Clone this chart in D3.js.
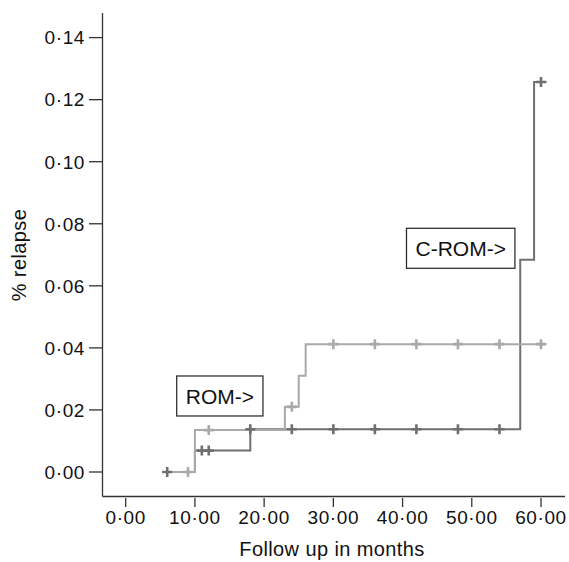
<!DOCTYPE html>
<meta charset="utf-8">
<style>
body{
  margin: 0px;
  background: white;
  font-family: "Liberation Sans", Arial, Helvetica, sans-serif;
}
svg{
  display: block;
}
.tick-label{
  font-size: 19px;
  letter-spacing: 0.6px;
  fill: #111;
}
.axis-title{
  font-size: 20px;
  letter-spacing: 0.4px;
  fill: #111;
}
.note{
  font-size: 21px;
  fill: #111;
}
</style>
<body>
<div id='graph'></div>

<script src="https://cdn.jsdelivr.net/npm/d3@7"></script>
<script>

// ROM group (light line): step times and relapse values after each step
var romTimes    = [5.4, 10, 23, 25, 26]
var romValues   = [0, 0.0135, 0.021, 0.031, 0.0412]
var romCensored = [9, 12, 24, 30, 36, 42, 48, 54, 60]

// C-ROM group (dark line)
var cromTimes    = [5.4, 10, 18, 57, 59]
var cromValues   = [0, 0.0069, 0.0138, 0.0684, 0.1257]
var cromCensored = [6, 11, 12, 18, 24, 30, 36, 42, 48, 54, 60]

var followEnd = 60.8

var xTicks = [0, 10, 20, 30, 40, 50, 60]
var yTicks = [0, 0.02, 0.04, 0.06, 0.08, 0.10, 0.12, 0.14]

// boxed labels, centred at (months, relapse)
var noteText = ['ROM->', 'C-ROM->']
var noteX    = [13.6, 48.4]
var noteY    = [0.0245, 0.0721]

var width = 569, height = 562

var x = d3.scaleLinear().domain([0, 60]).range([125.7, 541])
var y = d3.scaleLinear().domain([0, 0.14]).range([472, 37.6])

var fmt = function(d){ return d3.format('.2f')(d).replace('.', '\u00b7') }

var svg = d3.select('#graph').append('svg')
    .attr('width', width)
    .attr('height', height)

// axes frame
var axisX = 102.5, axisY = 496.5
svg.append('line')
    .attr('x1', axisX).attr('x2', axisX)
    .attr('y1', 13).attr('y2', axisY)
    .attr('stroke', '#333').attr('stroke-width', 1.3)
svg.append('line')
    .attr('x1', axisX).attr('x2', 565)
    .attr('y1', axisY).attr('y2', axisY)
    .attr('stroke', '#333').attr('stroke-width', 1.3)

// y ticks
var yt = svg.append('g').selectAll('g').data(yTicks).enter().append('g')
yt.append('line')
    .attr('x1', 89).attr('x2', axisX)
    .attr('y1', function(d){ return y(d) }).attr('y2', function(d){ return y(d) })
    .attr('stroke', '#333').attr('stroke-width', 1.3)
yt.append('text')
    .attr('class', 'tick-label')
    .attr('x', 85)
    .attr('y', function(d){ return y(d) })
    .attr('dy', '0.36em')
    .attr('text-anchor', 'end')
    .text(fmt)

// x ticks
var xt = svg.append('g').selectAll('g').data(xTicks).enter().append('g')
xt.append('line')
    .attr('x1', function(d){ return x(d) }).attr('x2', function(d){ return x(d) })
    .attr('y1', 498).attr('y2', 507)
    .attr('stroke', '#333').attr('stroke-width', 1.3)
xt.append('text')
    .attr('class', 'tick-label')
    .attr('x', function(d){ return x(d) })
    .attr('y', 524)
    .attr('text-anchor', 'middle')
    .text(fmt)

svg.append('text')
    .attr('class', 'axis-title')
    .attr('x', 332).attr('y', 556)
    .attr('text-anchor', 'middle')
    .text('Follow up in months')

svg.append('text')
    .attr('class', 'axis-title')
    .attr('transform', 'translate(26,255) rotate(-90)')
    .attr('text-anchor', 'middle')
    .text('% relapse')

// step curves
var line = d3.line()
    .x(function(d){ return x(d[0]) })
    .y(function(d){ return y(d[1]) })
    .curve(d3.curveStepAfter)

function steps(times, values){
  var pts = times.map(function(t, i){ return [t, values[i]] })
  pts.push([followEnd, values[values.length - 1]])
  return pts
}

function valueAt(times, values, t){
  var i = d3.bisectRight(times, t) - 1
  return values[Math.max(i, 0)]
}

var series = [
  {times: cromTimes, values: cromValues, cens: cromCensored, color: '#6f6f6f'},
  {times: romTimes,  values: romValues,  cens: romCensored,  color: '#a9a9a9'}
]

series.forEach(function(s){
  svg.append('path')
      .attr('d', line(steps(s.times, s.values)))
      .attr('fill', 'none')
      .attr('stroke', s.color)
      .attr('stroke-width', 2)
})

// censor marks
series.forEach(function(s){
  svg.append('g').selectAll('path').data(s.cens).enter().append('path')
      .attr('d', function(t){
        var cx = x(t), cy = y(valueAt(s.times, s.values, t))
        return 'M' + (cx - 5) + ',' + cy + 'H' + (cx + 5) +
               'M' + cx + ',' + (cy - 5) + 'V' + (cy + 5)
      })
      .attr('stroke', s.color)
      .attr('stroke-width', 2.6)
      .attr('fill', 'none')
})

// boxed notes
noteText.forEach(function(t, i){
  var g = svg.append('g')
      .attr('transform', 'translate(' + x(noteX[i]) + ',' + y(noteY[i]) + ')')
  var txt = g.append('text')
      .attr('class', 'note')
      .attr('text-anchor', 'middle')
      .attr('dy', '0.36em')
      .text(t)
  var w = txt.node().getComputedTextLength() + 18
  g.insert('rect', 'text')
      .attr('x', -w / 2).attr('y', -20)
      .attr('width', w).attr('height', 40)
      .attr('fill', 'white')
      .attr('stroke', '#222')
      .attr('stroke-width', 1.2)
})

</script>
